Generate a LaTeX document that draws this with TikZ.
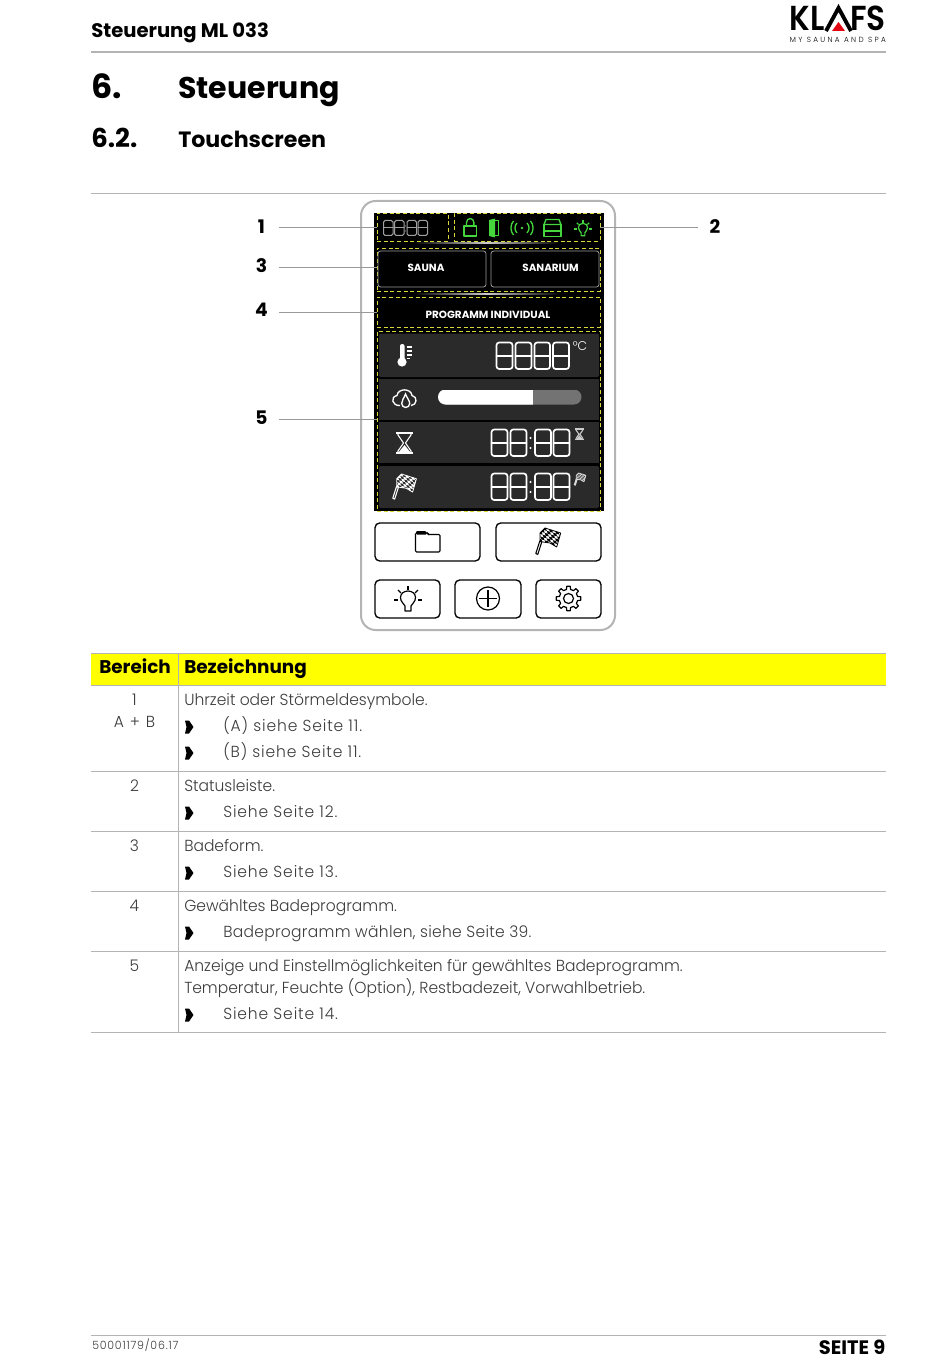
\documentclass[tikz,border=0pt]{standalone}
\usepackage{fontspec}
\setmainfont{Poppins}
\newfontfamily\lightf[FakeStretch=0.97,RawFeature={-kern}]{Poppins Light}
\newfontfamily\boldf{Poppins}[BoldFont={Poppins Bold}]
\newfontfamily\logof[FakeStretch=0.9]{Poppins SemiBold}
\definecolor{rulegray}{HTML}{B4B4B4}
\definecolor{rowdark}{HTML}{2A2A2A}
\definecolor{dashy}{HTML}{D8D83C}
\definecolor{statgreen}{HTML}{44D63C}
\definecolor{txtgray}{HTML}{3C3C3C}
\definecolor{klred}{HTML}{E30613}
\definecolor{hdryel}{RGB}{255,255,0}
\tikzset{
 body/.style={anchor=base west,inner sep=0pt,text=txtgray,font=\lightf\fontsize{12}{14}\selectfont},
 bodyw/.style={body,font=\lightf\fontsize{12}{14}\selectfont\addfontfeature{LetterSpace=5.5}},
 bodym/.style={body,font=\lightf\fontsize{12}{14}\selectfont\addfontfeature{LetterSpace=1.8}},
 bodyc/.style={anchor=base,inner sep=0pt,text=txtgray,font=\lightf\fontsize{12}{14}\selectfont},
 bodycw/.style={bodyc,font=\lightf\fontsize{12}{14}\selectfont\addfontfeature{LetterSpace=10}},
 callout/.style={inner sep=0pt,font=\boldf\bfseries\fontsize{14}{16}\selectfont},
 calline/.style={draw=rulegray!85!black,line width=0.7pt},
 tblline/.style={draw=rulegray,line width=0.7pt},
 dashbox/.style={draw=dashy,dashed,dash pattern=on 3pt off 2pt,line width=0.55pt},
 softbtn/.style={draw=black,rounded corners=3.5pt,line width=1pt,fill=white},
 scrbtn/.style={draw=gray!80,rounded corners=2pt,line width=0.6pt,fill=black},
 btntext/.style={text=white,inner sep=0pt,font=\boldf\bfseries\fontsize{7.8}{9}\selectfont},
 seg/.style={draw=white,line width=1.25pt,rounded corners=2pt},
}
\newcommand\segd[4]{\draw[seg] (#1,#2) rectangle ++(#3,#4);\draw[seg,line cap=round] (#1,#2+#4/2) -- ++(#3,0);}
\newcommand\bul[1]{\fill[black] (185,#1-6.5) -- (189,#1-6.5) -- (193.5,#1) -- (189,#1+6.5) -- (185,#1+6.5) -- (186.5,#1) -- cycle;}
% #1 x, #2 y, #3 scale, #4 mark colour, #5 ground colour
\newcommand\flagicon[5]{\begin{scope}[shift={(#1,#2)},scale=#3]
 \draw[#4,line width=0.8pt,line join=round,fill=#5] (0.8,25.5) -- (4.8,13) -- (6.8,13.8) -- (2.8,26.4) -- cycle;
 \begin{scope}
 \clip (5,5) -- (10,0) -- (25.7,5) -- (21.7,19) -- (15,15) -- (5,13.6) -- cycle;
 \fill[#5] (0,0) rectangle (27,20);
 \foreach \i in {-1,...,8}{\foreach \j in {-4,...,6}{
  \pgfmathtruncatemacro\mm{mod(\i+\j+16,2)}
  \ifnum\mm=0 \fill[#4] ({3.5+\i*3.1+\j*1.0},{3+\i*0.9+\j*2.8}) -- ++(3.1,0.9) -- ++(1.0,2.8) -- ++(-3.1,-0.9) -- cycle;\fi}}
 \end{scope}
 \draw[#4,line width=0.6pt,line join=round] (5,5) -- (10,0) -- (25.7,5) -- (21.7,19) -- (15,15) -- (5,13.6) -- cycle;
\end{scope}}
\newcommand\hglass[4]{\begin{scope}[shift={(#1,#2)},scale=#3]
 \draw[#4,line width=0.8pt,line join=round] (2,1) -- (2,3) -- (7.5,11) -- (2,19) -- (2,21) (15,1) -- (15,3) -- (9.5,11) -- (15,19) -- (15,21);
 \draw[#4,line width=1.3pt] (0,0.8) -- (17,0.8) (0,21.2) -- (17,21.2);
 \fill[#4] (2.5,20.5) -- (8.5,13) -- (14.5,20.5) -- cycle;
\end{scope}}
\newcommand\bulb[4]{\begin{scope}[shift={(#1,#2)},scale=#3]
 \draw[#4,line width=0.9pt,line join=round] (-3,11) -- (-3,6) .. controls (-4,3.5) and (-7.5,2) .. (-7.5,-2.5) .. controls (-7.5,-6.5) and (-4,-9) .. (0,-9) .. controls (4,-9) and (7.5,-6.5) .. (7.5,-2.5) .. controls (7.5,2) and (4,3.5) .. (3,6) -- (3,11) -- cycle;
 \foreach \a in {180,225,270,315,360}{\draw[#4,line width=0.9pt] (\a:10) -- (\a:14);}
\end{scope}}
\begin{document}
\begin{tikzpicture}[x=0.75pt,y=-0.75pt]
\useasboundingbox (0,0) rectangle (950,1369);
\fill[white] (0,0) rectangle (950,1369);
% page head
\node[anchor=base west,inner sep=0pt,font=\boldf\bfseries\fontsize{14.7}{16}\selectfont] (hd) at (91,38) {Steuerung ML 033};
\draw[rulegray,line width=1.3pt] (91,52) -- (886,52);
\node[anchor=base west,inner sep=0pt,font=\boldf\bfseries\fontsize{25}{26}\selectfont] (t1n) at (91,99) {6.};
\node[anchor=base west,inner sep=0pt,font=\boldf\bfseries\fontsize{22.5}{26}\selectfont] (t1) at (178,99) {Steuerung};
\node[anchor=base west,inner sep=0pt,font=\boldf\bfseries\fontsize{19.5}{22}\selectfont] (t2n) at (91,148) {6.2.};
\node[anchor=base west,inner sep=0pt,font=\boldf\bfseries\fontsize{16.6}{22}\selectfont] (t2) at (178,148) {Touchscreen};
\draw[rulegray,line width=0.7pt] (91,193.5) -- (886,193.5);
% logo
\node[anchor=base east,inner sep=0pt,font=\logof\fontsize{26}{28}\selectfont] (lg1) at (825,30.5) {KL};
\node[anchor=base east,inner sep=0pt,font=\logof\fontsize{26}{28}\selectfont] (lg2) at (886,30.5) {FS};
\draw[black,line width=2.9pt,line join=miter] (826,31) -- (838.5,8) -- (851,31);
\fill[klred] (838.5,22) -- (845,31) -- (832,31) -- cycle;
\node[anchor=base east,inner sep=0pt,font=\lightf\fontsize{5.6}{7}\selectfont\addfontfeature{LetterSpace=32}] (lg3) at (886,42.5) {MY SAUNA AND SPA};
% panel
\draw[rulegray,line width=1.5pt,rounded corners=11pt,fill=white] (361,201) rectangle (615,630);
\fill[black] (374,213) rectangle (604,511);
% glow lines
\shade[left color=black,right color=black,middle color=white!80!black] (413,242.5) rectangle (560,244);
\shade[left color=black,right color=black,middle color=white!80!black] (413,293.5) rectangle (560,295);
% dashed areas
\node[dashbox,inner sep=0pt,minimum width=53.25pt,minimum height=21pt] (a1) at (412.5,227) {};
\node[dashbox,inner sep=0pt,minimum width=109.5pt,minimum height=21pt] (a2) at (527,227) {};
\node[dashbox,inner sep=0pt,minimum width=167.25pt,minimum height=32.25pt] (a3) at (488.5,269.5) {};
\node[dashbox,inner sep=0pt,minimum width=167.25pt,minimum height=22.5pt] (a4) at (488.5,312) {};
\node[dashbox,inner sep=0pt,minimum width=167.25pt,minimum height=135pt] (a5) at (488.5,421) {};
% callouts
\node[callout] (n1) at (261.5,227) {1};
\node[callout] (n2) at (715,227) {2};
\node[callout] (n3) at (261.5,266) {3};
\node[callout] (n4) at (261.5,310) {4};
\node[callout] (n5) at (261.5,418) {5};
\coordinate (c1) at (279,227);\coordinate (c2) at (698,227);
\draw[calline] (c1) -- (a1.west);
\draw[calline] (a2.east) -- (c2);
\coordinate (c3) at (279,267);\coordinate (e3) at (a3.west |- c3);
\coordinate (c4) at (279,312);
\coordinate (c5) at (279,419);\coordinate (e5) at (a5.west |- c5);
\draw[calline] (c3) -- (e3);
\draw[calline] (c4) -- (a4.west);
\draw[calline] (c5) -- (e5);
% time & status
\begin{scope}[seg/.append style={draw=gray!75,line width=0.75pt,rounded corners=1.2pt}]
\segd{383.5}{220.5}{9.5}{15}\segd{394.5}{220.5}{9.5}{15}\segd{407}{220.5}{9.5}{15}\segd{418}{220.5}{9.5}{15}
\fill[gray!75] (405.3,226) circle (0.6) (405.3,231) circle (0.6);
\end{scope}
\begin{scope}[statgreen,line width=1pt,line join=round]
 \draw (464,226) rectangle (476.5,236);
 \draw (466.5,226) -- (466.5,222.5) arc (180:360:3.7 and 4) -- (473.9,226);
 \fill (489,220) -- (495,218.5) -- (495,237.5) -- (489,236) -- cycle;
 \draw (495,220.5) -- (498.8,220.5) -- (498.8,235.5) -- (495,235.5);
 \fill (522,228) circle (1.4);
 \draw (517,223) arc (225:135:7);
 \draw (513.5,220.9) arc (220:140:11);
 \draw (527,223) arc (-45:45:7);
 \draw (530.5,220.9) arc (-40:40:11);
 \draw (546,219.5) -- (559,219.5) -- (561,224.5) -- (544,224.5) -- cycle;
 \draw (544,224.5) -- (561,224.5) -- (561,231) -- (544,231) -- cycle;
 \draw (544,231) rectangle (561,236.5);
\end{scope}
\bulb{583}{229}{0.62}{statgreen}
% mode buttons
\node[scrbtn,minimum width=81pt,minimum height=27pt,inner sep=0pt] (sauna) at (432,269) {};
\node[scrbtn,minimum width=81pt,minimum height=27pt,inner sep=0pt] (sanarium) at (545,269) {};
\node[btntext] (saunat) at (426,267.5) {SAUNA};
\node[btntext] (sanat) at (550.5,267.5) {SANARIUM};
\node[btntext] (prog) at (488,314.5) {PROGRAMM INDIVIDUAL};
% rows
\fill[rowdark,rounded corners=1pt] (379,333.5) rectangle (599,377);
\fill[rowdark] (379,379) rectangle (599,419.5);
\fill[rowdark] (379,422) rectangle (599,463);
\fill[rowdark,rounded corners=1pt] (379,466) rectangle (599,508);
% row 1
\fill[white] (402,362) circle (4.6);
\fill[white,rounded corners=1.5pt] (400,344) rectangle (404.5,362);
\draw[white,line width=0.8pt] (406.5,347) -- (412,347) (406.5,351) -- (412,351) (406.5,355) -- (412,355) (406.5,358.5) -- (410,358.5);
\segd{496.5}{342.5}{16}{26.5}\segd{515.5}{342.5}{16}{26.5}\segd{534.5}{342.5}{15.5}{26.5}\segd{553}{342.5}{16}{26.5}
\node[inner sep=0pt,text=white,font=\lightf\fontsize{9.5}{10}\selectfont] (deg) at (580,346) {°C};
% row 2
\draw[white,line width=1pt,line join=round] (400,405.5) .. controls (392,406) and (390,397) .. (397,395.5) .. controls (398,388) and (411,388) .. (412,395.5) .. controls (418,396.5) and (417,405.5) .. (411,405.5);
\draw[white,line width=1pt,fill=rowdark] (405.5,394) .. controls (404,398) and (401.7,400.5) .. (401.7,403.5) arc (180:0:4) .. controls (409.7,400.5) and (407,398) .. (405.5,394) -- cycle;
\begin{scope}
 \clip[rounded corners=5.6pt] (438,389.5) rectangle (581.5,404.5);
 \fill[white!45!black] (438,389.5) rectangle (581.5,404.5);
 \fill[white] (438,389.5) rectangle (533,404.5);
\end{scope}
% row 3
\hglass{396}{432}{1}{white}
\segd{491.5}{429.5}{16}{26.5}\segd{510.5}{429.5}{16}{26.5}\segd{535}{429.5}{16}{26.5}\segd{553.5}{429.5}{16}{26.5}
\fill[white] (530.5,438) circle (1.2) (530.5,448) circle (1.2);
\hglass{575}{428.5}{0.52}{white!80!black}
% row 4
\flagicon{392}{474}{0.95}{white}{rowdark}
\segd{491.5}{473.5}{16}{26.5}\segd{510.5}{473.5}{16}{26.5}\segd{535}{473.5}{16}{26.5}\segd{553.5}{473.5}{16}{26.5}
\fill[white] (530.5,482) circle (1.2) (530.5,492) circle (1.2);
\flagicon{574}{473}{0.46}{white!85!black}{rowdark}
% soft buttons
\node[softbtn,minimum width=78.75pt,minimum height=28.5pt,inner sep=0pt] (bfold) at (427.5,542) {};
\node[softbtn,minimum width=78.75pt,minimum height=28.5pt,inner sep=0pt] (bflag) at (548.5,542) {};
\node[softbtn,minimum width=48.75pt,minimum height=28.5pt,inner sep=0pt] (blight) at (407.5,599) {};
\node[softbtn,minimum width=49.5pt,minimum height=28.5pt,inner sep=0pt] (bplus) at (488,599) {};
\node[softbtn,minimum width=48.75pt,minimum height=28.5pt,inner sep=0pt] (bgear) at (568.5,599) {};
\draw[black,line width=0.8pt,rounded corners=0.8pt] (415.5,552) -- (415.5,533) -- (428,533) -- (428,534.5) -- (440,534.5) -- (440,552) -- cycle;
\fill[black,rounded corners=0.8pt] (416,534.5) -- (416,531) -- (426,531) -- (427,534.5) -- cycle;
\flagicon{535}{528}{1}{black}{white}
\bulb{408}{600}{1}{black}
\draw[black,line width=0.9pt] (488,598.5) circle (11.5);
\draw[black,line width=0.9pt] (479.3,598.5) -- (496.7,598.5) (488,589.8) -- (488,607.2);
\begin{scope}[shift={(568.5,598.5)}]
 \draw[black,line width=0.9pt,line join=round] (-13:9.3) \foreach \a in {0,45,...,315}{ -- ({\a-13}:9.3) -- ({\a-8}:12.3) -- ({\a+8}:12.3) -- ({\a+13}:9.3)} -- cycle;
 \draw[black,line width=0.9pt] (0,0) circle (5);
\end{scope}
% table
\fill[hdryel] (91,653) rectangle (886,684.5);
\draw[tblline] (91,653) -- (886,653);
\draw[tblline] (178,653) -- (178,1032.5);
\foreach \yy in {685,771,831,891,951,1032.5}{\draw[tblline] (91,\yy) -- (886,\yy);}
\node[anchor=base west,inner sep=0pt,font=\boldf\bfseries\fontsize{13.8}{16}\selectfont] (h1) at (99,673) {Bereich};
\node[anchor=base west,inner sep=0pt,font=\boldf\bfseries\fontsize{13.8}{16}\selectfont] (h2) at (184,673) {Bezeichnung};
\node[bodyc] (r1a) at (134.5,705.5) {1};
\node[bodycw] (r1b) at (134.5,727.5) {A + B};
\node[body] (r1c) at (184,705.5) {Uhrzeit oder Störmeldesymbole.};
\bul{727}\node[bodyw] (r1d) at (223,731.5) {(A) siehe Seite 11.};
\bul{753}\node[bodyw] (r1e) at (223,757.5) {(B) siehe Seite 11.};
\node[bodyc] (r2a) at (134.5,791) {2};
\node[body] (r2c) at (184,791) {Statusleiste.};
\bul{813}\node[bodyw] (r2d) at (223,817.5) {Siehe Seite 12.};
\node[bodyc] (r3a) at (134.5,851) {3};
\node[body] (r3c) at (184,851) {Badeform.};
\bul{873}\node[bodyw] (r3d) at (223,877.5) {Siehe Seite 13.};
\node[bodyc] (r4a) at (134.5,911) {4};
\node[body] (r4c) at (184,911) {Gewähltes Badeprogramm.};
\bul{933}\node[bodym] (r4d) at (223,937.5) {Badeprogramm wählen, siehe Seite 39.};
\node[bodyc] (r5a) at (134.5,971) {5};
\node[body] (r5c) at (184,971) {Anzeige und Einstellmöglichkeiten für gewähltes Badeprogramm.};
\node[body] (r5e) at (184,993) {Temperatur, Feuchte (Option), Restbadezeit, Vorwahlbetrieb.};
\bul{1015}\node[bodyw] (r5d) at (223,1019.5) {Siehe Seite 14.};
% footer
\draw[rulegray,line width=1pt] (91,1335.5) -- (886,1335.5);
\node[anchor=base west,inner sep=0pt,text=txtgray,font=\lightf\fontsize{8.5}{9}\selectfont\addfontfeature{LetterSpace=7}] (ft1) at (92,1349) {50001179/06.17};
\node[anchor=base east,inner sep=0pt,font=\boldf\bfseries\fontsize{14.6}{16}\selectfont] (ft2) at (885.5,1354) {SEITE 9};
\end{tikzpicture}
\end{document}
